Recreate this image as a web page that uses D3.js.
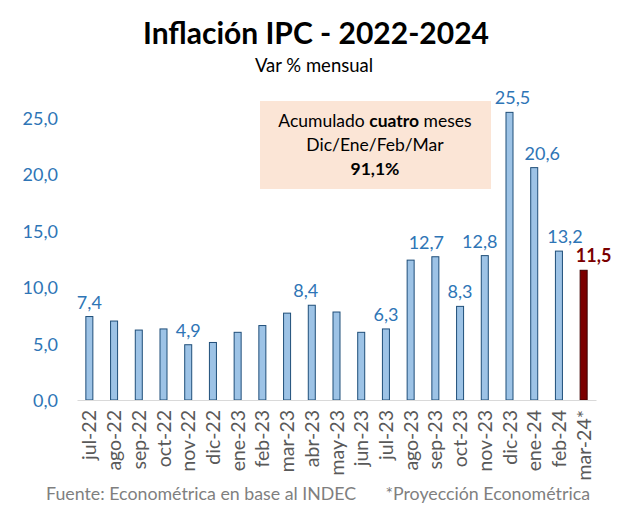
<!DOCTYPE html>
<html>
<head>
<meta charset="utf-8">
<script src="https://cdn.jsdelivr.net/npm/d3@7"></script>
<style>
  html, body { margin: 0; padding: 0; background: #fff; }
  svg { display: block; }
  text { font-family: Lato, "Open Sans", sans-serif; }
</style>
</head>
<body>
<svg id="chart" width="632" height="520"></svg>
<script>
const months = ["jul-22","ago-22","sep-22","oct-22","nov-22","dic-22","ene-23","feb-23","mar-23","abr-23","may-23","jun-23","jul-23","ago-23","sep-23","oct-23","nov-23","dic-23","ene-24","feb-24","mar-24*"];
const values = [7.4, 7.0, 6.2, 6.3, 4.9, 5.1, 6.0, 6.6, 7.7, 8.4, 7.8, 6.0, 6.3, 12.4, 12.7, 8.3, 12.8, 25.5, 20.6, 13.2, 11.5];
const labelled = ["jul-22","nov-22","abr-23","jul-23","sep-23","oct-23","nov-23","dic-23","ene-24","feb-24","mar-24*"];
const projected = ["mar-24*"];
const yTicks = [0, 5, 10, 15, 20, 25];
const title = "Inflación IPC - 2022-2024";
const subtitle = "Var % mensual";
const noteLines = ["Dic/Ene/Feb/Mar", "91,1%"];
const sourceText = "Fuente: Econométrica en base al INDEC";
const projText = "*Proyección Econométrica";

const svg = d3.select("#chart");
const fmt = v => d3.format(".1f")(v).replace(".", ",");

const x = d3.scaleBand().domain(months).range([77, 596]).paddingInner(0.676).paddingOuter(0.338);
const y = d3.scaleLinear().domain([0, 25]).range([400, 118]);

// Title
svg.append("text").attr("x", 316).attr("y", 44).attr("text-anchor", "middle")
  .attr("font-size", 30).attr("font-weight", 700).attr("fill", "#000").text(title);
svg.append("text").attr("x", 314).attr("y", 72).attr("text-anchor", "middle")
  .attr("font-size", 18.5).attr("fill", "#000").text(subtitle);

// Y axis labels
const yAxis = d3.axisLeft(y).tickValues(yTicks).tickFormat(fmt).tickSize(0).tickPadding(0);
const gy = svg.append("g").attr("transform", "translate(58,0)").call(yAxis);
gy.select(".domain").remove();
gy.selectAll("text").attr("font-size", 18).attr("fill", "#2E75B6")
  .attr("font-family", "Lato, sans-serif").attr("dy", "0.36em");

// Annotation box
const box = svg.append("g");
box.append("rect").attr("x", 260).attr("y", 101).attr("width", 231).attr("height", 88).attr("fill", "#FBE5D6");
const t1 = box.append("text").attr("x", 375).attr("y", 127).attr("text-anchor", "middle")
  .attr("font-size", 17.5).attr("fill", "#000");
t1.append("tspan").text("Acumulado ");
t1.append("tspan").attr("font-weight", 700).text("cuatro");
t1.append("tspan").text(" meses");
box.append("text").attr("x", 375).attr("y", 151).attr("text-anchor", "middle")
  .attr("font-size", 17.5).attr("fill", "#000").text(noteLines[0]);
box.append("text").attr("x", 375).attr("y", 175).attr("text-anchor", "middle")
  .attr("font-size", 17.5).attr("font-weight", 700).attr("fill", "#000").text(noteLines[1]);

// Bars
const data = months.map((m, i) => ({ m, v: values[i] }));
svg.append("g").selectAll("rect").data(data).join("rect")
  .attr("x", d => x(d.m) + 0.5)
  .attr("y", d => y(d.v))
  .attr("width", x.bandwidth() - 1)
  .attr("height", d => y(0) - y(d.v))
  .attr("fill", d => projected.includes(d.m) ? "#7B0000" : "#9DC3E6")
  .attr("stroke", d => projected.includes(d.m) ? "#3F0000" : "#1F4E79")
  .attr("stroke-width", 1);

// Baseline axis
const xAxis = d3.axisBottom(x).tickSize(0).tickPadding(0);
const gx = svg.append("g").attr("transform", "translate(0,400)").call(xAxis);
gx.select(".domain").attr("stroke", "#D9D9D9").attr("stroke-width", 1.2);
gx.selectAll("text")
  .attr("font-size", 19.5).attr("fill", "#595959").attr("font-family", "Lato, sans-serif")
  .attr("text-anchor", "end").attr("dy", null)
  .attr("transform", "translate(7,10) rotate(-90)");

// Value labels
const labelShift = { "abr-23": -6, "sep-23": -9, "nov-23": -5, "dic-23": 3, "ene-24": 8, "feb-24": 6, "mar-24*": 10 };
svg.append("g").selectAll("text").data(data.filter(d => labelled.includes(d.m))).join("text")
  .attr("x", d => x(d.m) + x.bandwidth() / 2 + (labelShift[d.m] || 0))
  .attr("y", d => y(d.v) - 8)
  .attr("text-anchor", "middle")
  .attr("font-size", 18)
  .attr("font-weight", d => projected.includes(d.m) ? 700 : 400)
  .attr("fill", d => projected.includes(d.m) ? "#7B0000" : "#2E75B6")
  .text(d => fmt(d.v));

// Footer
svg.append("text").attr("x", 46).attr("y", 500).attr("font-size", 17.8).attr("fill", "#7F7F7F").text(sourceText);
svg.append("text").attr("x", 590).attr("y", 500).attr("text-anchor", "end").attr("font-size", 17.8).attr("fill", "#7F7F7F").text(projText);
</script>
</body>
</html>
